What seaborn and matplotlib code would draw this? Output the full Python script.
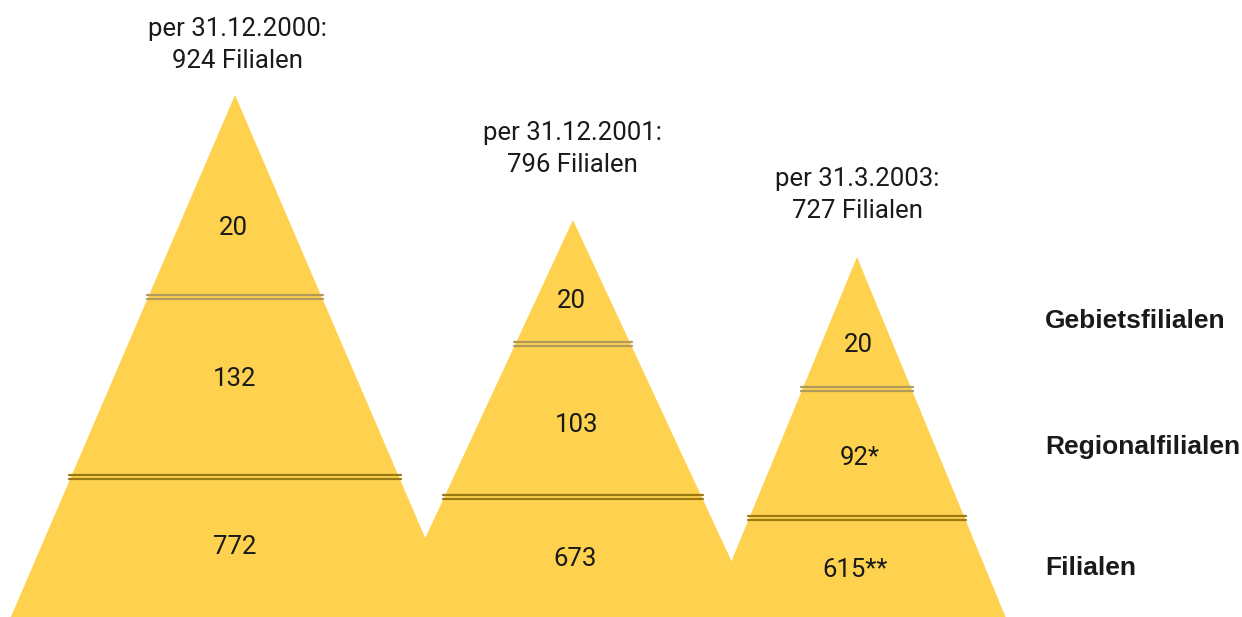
import matplotlib
matplotlib.use("Agg")
import matplotlib.pyplot as plt
import numpy as np
import pandas as pd
import seaborn as sns

# data
dates = ["per 31.12.2000:", "per 31.12.2001:", "per 31.3.2003:"]
totals = [924, 796, 727]
gebiet = ["20", "20", "20"]
regional = ["132", "103", "92*"]
filialen = ["772", "673", "615**"]
levels = ["Gebietsfilialen", "Regionalfilialen", "Filialen"]

# layout (pixel coordinates, y downwards)
apex_x = [235, 573, 857]
apex_y = [95, 220, 257]
slope = [0.431, 0.467, 0.415]
base_y = 617
sep_top = [297, 344, 389]
sep_bot = [477, 497, 518]
lab_y = [[228, 379, 547], [301, 425, 559], [345, 458, 570]]
lab_x = [[233, 235, 235], [571, 577, 575], [858, 860, 855]]
head_x = [237, 572, 857]
head_y = [29, 133, 179]
level_y = [321, 447, 568]

sns.set_theme(style="white")
plt.rcParams['font.family'] = ['Roboto', 'DejaVu Sans']

fig = plt.figure(figsize=(12.42, 6.17), dpi=100)
ax = fig.add_axes([0, 0, 1, 1])
ax.set_xlim(0, 1242)
ax.set_ylim(617, 0)
ax.axis("off")

yellow = "#FED14E"
ink = "#1a1a1a"

for i in range(3):
    h = base_y - apex_y[i]
    half = slope[i] * h
    ax.fill([apex_x[i] - half, apex_x[i], apex_x[i] + half],
            [base_y + 2, apex_y[i], base_y + 2], color=yellow, lw=0, zorder=1)

    # separators (double lines)
    for y, col in [(sep_top[i], "#b09a5c"), (sep_bot[i], "#9a7812")]:
        w = slope[i] * (y - apex_y[i]) + 1
        for dy in (-1.7, 1.7):
            df = pd.DataFrame({"x": [apex_x[i] - w, apex_x[i] + w], "y": [y + dy, y + dy]})
            sns.lineplot(data=df, x="x", y="y", ax=ax, color=col, lw=1.6, zorder=3,
                         sort=False, estimator=None)

    # values inside
    for j, txt in enumerate([gebiet[i], regional[i], filialen[i]]):
        ax.text(lab_x[i][j], lab_y[i][j], txt, ha="center", va="center",
                fontsize=18.5, color=ink, zorder=4)

    # header above
    ax.text(head_x[i], head_y[i], dates[i], ha="center", va="center",
            fontsize=18.5, color=ink)
    ax.text(head_x[i], head_y[i] + 32, f"{totals[i]} Filialen", ha="center",
            va="center", fontsize=18.5, color=ink)

for txt, y in zip(levels, level_y):
    ax.text(1045, y, txt, ha="left", va="center", fontsize=19, fontweight="bold",
            family=["Liberation Sans", "DejaVu Sans"], color=ink)

ax.set_xlabel("")
ax.set_ylabel("")
fig.savefig("out.png", dpi=100, facecolor="white")
